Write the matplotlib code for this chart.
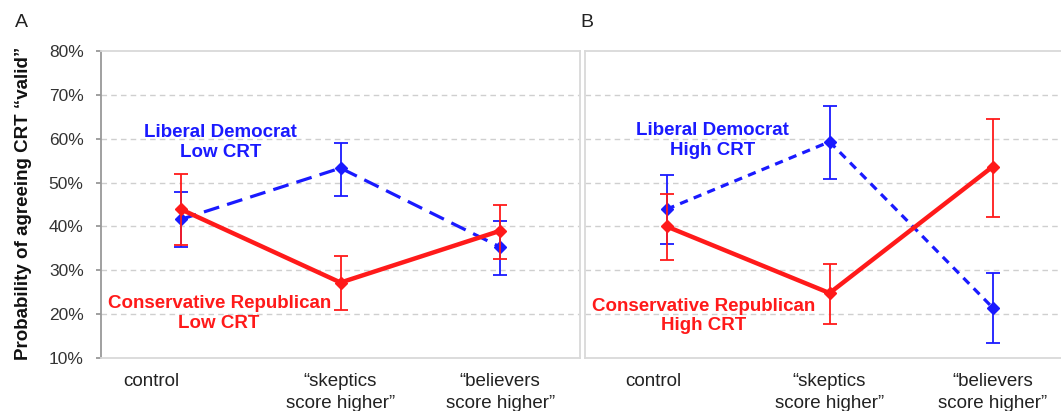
import matplotlib.pyplot as plt
from matplotlib.ticker import PercentFormatter
import matplotlib.transforms as mtransforms

plt.rcParams['font.family'] = ['Liberation Sans', 'DejaVu Sans']

# datos (porcentajes)
conditions = ['control', '\u201cskeptics\nscore higher\u201d', '\u201cbelievers\nscore higher\u201d']

# panel A: Low CRT
dem_low = [41.6, 53.3, 35.3]
dem_low_lo = [35.3, 46.9, 28.9]
dem_low_hi = [47.8, 59.1, 41.2]
rep_low = [43.9, 27.2, 39.0]
rep_low_lo = [35.7, 21.0, 32.6]
rep_low_hi = [51.9, 33.2, 44.8]

# panel B: High CRT
dem_high = [43.9, 59.3, 21.5]
dem_high_lo = [36.1, 50.7, 13.5]
dem_high_hi = [51.7, 67.4, 29.3]
rep_high = [40.0, 24.8, 53.6]
rep_high_lo = [32.4, 17.8, 42.1]
rep_high_hi = [47.3, 31.4, 64.4]

blue = '#1a1aff'
red = '#ff1a1a'
grid_gray = '#cfcfcf'

fig = plt.figure(figsize=(10.61, 4.11), dpi=100)
ax_a = fig.add_axes([0.0952, 0.129, 0.4515, 0.747])
ax_b = fig.add_axes([0.5514, 0.129, 0.4609, 0.747])


def yerr(mid, lo, hi):
    return [[m - l for m, l in zip(mid, lo)], [h - m for m, h in zip(mid, hi)]]


def panel(ax, dem, dlo, dhi, rep, rlo, rhi, dashes, ctrl_shift):
    x = range(len(conditions))
    ax.errorbar(x, dem, yerr=yerr(dem, dlo, dhi), color=blue, lw=2.3, dashes=dashes,
                marker='D', ms=6.5, elinewidth=1.3, capsize=5, capthick=1.3, zorder=3)
    ax.errorbar(x, rep, yerr=yerr(rep, rlo, rhi), color=red, lw=3.2,
                marker='D', ms=6.5, elinewidth=1.3, capsize=5, capthick=1.3, zorder=4)
    ax.set_xlim(-0.5, 2.5)
    ax.set_ylim(10, 80)
    ax.set_yticks(range(10, 81, 10))
    for y in range(20, 80, 10):
        ax.axhline(y, color=grid_gray, lw=1, ls=(0, (4, 3)), zorder=1)
    for s in ax.spines.values():
        s.set_color('#d9d9d9')
        s.set_linewidth(1.3)
    ax.set_xticks(list(x))
    ax.set_xticklabels(conditions, fontsize=13.5, color='#222222')
    ax.tick_params(axis='x', length=0, pad=11)
    for lab in ax.get_xticklabels():
        lab.set_linespacing(1.4)
    lab = ax.get_xticklabels()[0]
    lab.set_transform(lab.get_transform() +
                      mtransforms.ScaledTranslation(ctrl_shift / 100, 0, fig.dpi_scale_trans))


panel(ax_a, dem_low, dem_low_lo, dem_low_hi, rep_low, rep_low_lo, rep_low_hi, (5, 2.6), -30)
panel(ax_b, dem_high, dem_high_lo, dem_high_hi, rep_high, rep_high_lo, rep_high_hi, (2.6, 2.0), -13)

# eje y solo en A
ax_a.yaxis.set_major_formatter(PercentFormatter(decimals=0))
ax_a.tick_params(axis='y', length=3.5, width=1.3, color='#999999', pad=9,
                 labelsize=12.5, labelcolor='#333333')
ax_a.spines['left'].set_color('#999999')
ax_b.set_yticks([])

# etiquetas de las series
kw = dict(ha='center', va='center', fontsize=13.5, fontweight='bold', linespacing=1.2)
ax_a.text(0.25, 59.1, 'Liberal Democrat\nLow CRT', color=blue, **kw)
ax_a.text(0.24, 20.1, 'Conservative Republican\nLow CRT', color=red, **kw)
ax_b.text(0.28, 59.6, 'Liberal Democrat\nHigh CRT', color=blue, **kw)
ax_b.text(0.23, 19.6, 'Conservative Republican\nHigh CRT', color=red, **kw)

fig.text(0.0217, 0.504, 'Probability of agreeing CRT \u201cvalid\u201d', rotation=90,
         ha='center', va='center', fontsize=13.5, fontweight='bold', color='#111111')
fig.text(0.0205, 0.946, 'A', fontsize=14, ha='center', va='center', color='#222222')
fig.text(0.5535, 0.946, 'B', fontsize=14, ha='center', va='center', color='#222222')

fig.savefig('out.png', dpi=100)
